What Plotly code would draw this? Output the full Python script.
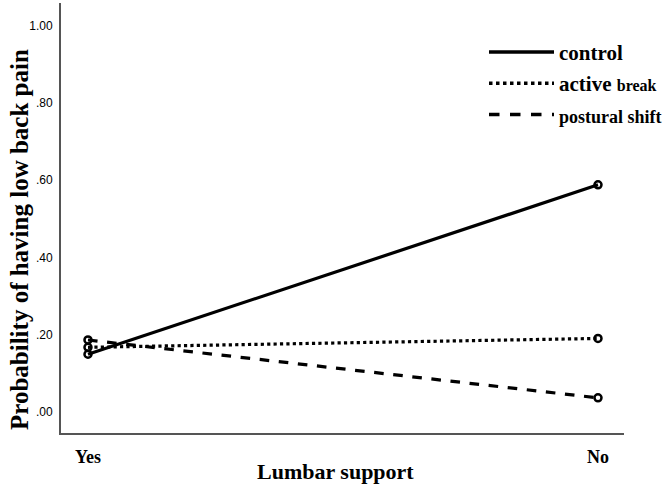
import plotly.graph_objects as go

# x categories of the interaction plot
support = ['Yes', 'No']
support_pos = [0, 1]

# estimated probabilities of low back pain per group
control = [0.149, 0.588]
active_break = [0.167, 0.190]
postural_shift = [0.186, 0.036]

y_ticks = [0.0, 0.2, 0.4, 0.6, 0.8, 1.0]
y_tick_text = ['.00', '.20', '.40', '.60', '.80', '1.00']

series = [
    ('<b>control</b>', control, 'solid'),
    ('<b>active</b> <span style="font-size:16px"><b>break</b></span>', active_break, 'dot'),
    ('<span style="font-size:18px"><b>postural shift</b></span>', postural_shift, 'dash'),
]

fig = go.Figure()
for name, vals, dash in series:
    fig.add_trace(go.Scatter(
        x=support_pos, y=vals, mode='lines+markers',
        line=dict(color='black', width=3.2, dash=dash),
        marker=dict(symbol='circle-open', size=7, color='black', line=dict(width=2.5)),
        showlegend=False,
    ))

# legend entries: lines only
for i, (name, vals, dash) in enumerate(series):
    fig.add_trace(go.Scatter(
        x=[None], y=[None], mode='lines', name=name, legendgroup='g%d' % i,
        line=dict(color='black', width=3.5, dash=dash),
    ))

serif = 'Liberation Serif, Times New Roman, serif'

plot_w = 671 - 61 - 47
plot_h = 490 - 3 - 57

fig.update_layout(
    width=671, height=490,
    margin=dict(l=61, r=47, t=3, b=57),
    plot_bgcolor='white', paper_bgcolor='white',
    font=dict(family=serif, color='black'),
    showlegend=True,
    legend=dict(
        x=(484 - 61) / plot_w, y=0.933, xanchor='left', yanchor='top',
        bgcolor='rgba(0,0,0,0)', itemwidth=65,
        font=dict(family=serif, size=21, color='black'),
        tracegroupgap=1,
    ),
    xaxis=dict(
        range=[-0.0529, 1.051], automargin=False,
        tickvals=support_pos, ticktext=['<b>%s</b>' % s for s in support],
        tickfont=dict(family=serif, size=18),
        showgrid=False, zeroline=False,
        showline=True, linecolor='#555555', linewidth=2,
        ticks='', ticklabelstandoff=6,
    ),
    yaxis=dict(
        range=[-0.055, 1.059], automargin=False,
        tickvals=y_ticks, ticktext=y_tick_text,
        tickfont=dict(family='Liberation Sans Narrow, Arial Narrow, sans-serif', size=12),
        showgrid=False, zeroline=False,
        showline=True, linecolor='#555555', linewidth=2,
        ticks='', ticklabelstandoff=4,
    ),
    annotations=[
        dict(text='<b>Lumbar support</b>', showarrow=False, font=dict(family=serif, size=22),
             x=(335 - 61) / plot_w, y=(433 - 471) / plot_h,
             xref='paper', yref='paper', xanchor='center', yanchor='middle'),
        dict(text='<b>Probability of having low back pain</b>', textangle=-90,
             showarrow=False, font=dict(family=serif, size=25),
             x=(20 - 61) / plot_w, y=(433 - 240) / plot_h,
             xref='paper', yref='paper', xanchor='center', yanchor='middle'),
    ],
)

fig.write_html('out.html', config={'displayModeBar': False},
               post_script="document.body.style.margin='0';document.body.style.overflow='hidden';")
